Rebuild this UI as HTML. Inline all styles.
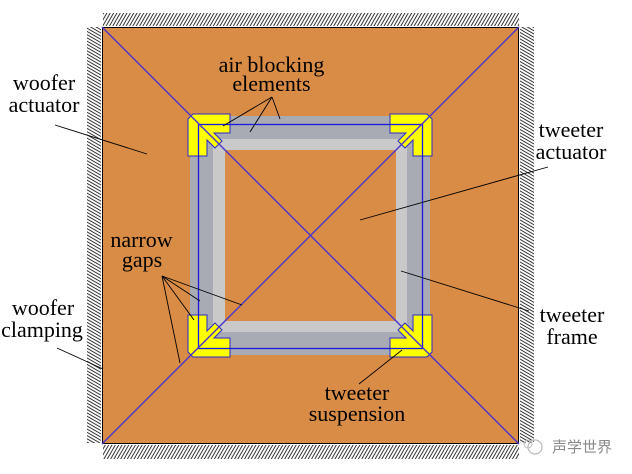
<!DOCTYPE html>
<html>
<head>
<meta charset="utf-8">
<style>
html,body{margin:0;padding:0;background:#fff;}
svg{display:block;}
text{font-family:"Liberation Serif","Times New Roman",serif;font-size:22px;fill:#000;}
</style>
</head>
<body>
<svg width="632" height="474" viewBox="0 0 632 474" xmlns="http://www.w3.org/2000/svg">
<defs>
  <pattern id="hv" width="2.9" height="10" patternUnits="userSpaceOnUse" patternTransform="rotate(30)">
    <line x1="0.5" y1="0" x2="0.5" y2="10" stroke="#222" stroke-width="0.9"/>
  </pattern>
  <pattern id="hh" width="10" height="2.8" patternUnits="userSpaceOnUse" patternTransform="rotate(30)">
    <line x1="0" y1="0.5" x2="10" y2="0.5" stroke="#222" stroke-width="0.9"/>
  </pattern>
  <g id="piece">
    <polygon points="5,0 42,0 42,19 26,19 34,27 27,34 19,26 19,42 0,42 0,5" fill="#ffff00" stroke="#2a2ad0" stroke-width="1"/>
  </g>
</defs>

<!-- hatching -->
<rect x="103" y="13" width="416" height="13" fill="url(#hv)"/>
<rect x="103" y="445" width="416" height="14" fill="url(#hv)"/>
<rect x="87" y="27" width="14" height="416" fill="url(#hh)"/>
<rect x="520" y="27" width="14" height="416" fill="url(#hh)"/>

<!-- woofer -->
<rect x="102.5" y="27.5" width="416" height="416" fill="#d98c45" stroke="#000" stroke-width="1"/>

<!-- tweeter frame -->
<rect x="190" y="116" width="240" height="239" fill="#a8aab4"/>
<rect x="213" y="139" width="194" height="193" fill="#c9c9c9"/>
<rect x="225" y="150" width="171" height="171" fill="#d98c45"/>

<!-- corner suspension pieces -->
<use href="#piece" transform="translate(188,114)"/>
<use href="#piece" transform="translate(432,114) scale(-1,1)"/>
<use href="#piece" transform="translate(188,357) scale(1,-1)"/>
<use href="#piece" transform="translate(432,357) scale(-1,-1)"/>

<!-- blue rect -->
<rect x="198.5" y="124.5" width="224" height="224" fill="none" stroke="#1a1ae0" stroke-width="1.3"/>

<!-- diagonals -->
<line x1="102" y1="27" x2="519" y2="444" stroke="#4a36cc" stroke-width="1.4"/>
<line x1="519" y1="27" x2="102" y2="444" stroke="#4a36cc" stroke-width="1.4"/>

<!-- leader lines -->
<g stroke="#000" stroke-width="0.9" fill="none">
  <line x1="55" y1="125" x2="147" y2="154"/>
  <line x1="57" y1="348" x2="103" y2="369"/>
  <line x1="162" y1="276" x2="242" y2="305"/>
  <line x1="162" y1="276" x2="200" y2="301"/>
  <line x1="162" y1="276" x2="194" y2="320"/>
  <line x1="162" y1="276" x2="180" y2="363"/>
  <line x1="272" y1="97" x2="223" y2="126"/>
  <line x1="272" y1="97" x2="250" y2="132"/>
  <line x1="272" y1="97" x2="280" y2="119"/>
  <line x1="548" y1="167" x2="360" y2="220"/>
  <line x1="529" y1="311" x2="401" y2="271"/>
  <line x1="359" y1="384" x2="402" y2="350"/>
</g>

<!-- labels -->
<g text-anchor="middle">
  <text x="44" y="90">woofer</text>
  <text x="44" y="112">actuator</text>
  <text x="271.5" y="72">air blocking</text>
  <text x="271.5" y="91">elements</text>
  <text x="571" y="137">tweeter</text>
  <text x="571" y="159">actuator</text>
  <text x="141.5" y="247">narrow</text>
  <text x="142" y="267">gaps</text>
  <text x="43" y="315">woofer</text>
  <text x="42" y="337">clamping</text>
  <text x="572" y="322">tweeter</text>
  <text x="572" y="344">frame</text>
  <text x="357" y="400">tweeter</text>
  <text x="357" y="421">suspension</text>
</g>

<!-- watermark -->
<circle cx="535" cy="447" r="7" fill="none" stroke="#bbb" stroke-width="1.2"/>
<circle cx="528" cy="444" r="4" fill="none" stroke="#bbb" stroke-width="1"/>
<text x="552" y="452" style="font-family:'Liberation Sans','Noto Sans CJK SC',sans-serif;font-size:15px;fill:#8a8a8a;">声学世界</text>
</svg>
</body>
</html>
